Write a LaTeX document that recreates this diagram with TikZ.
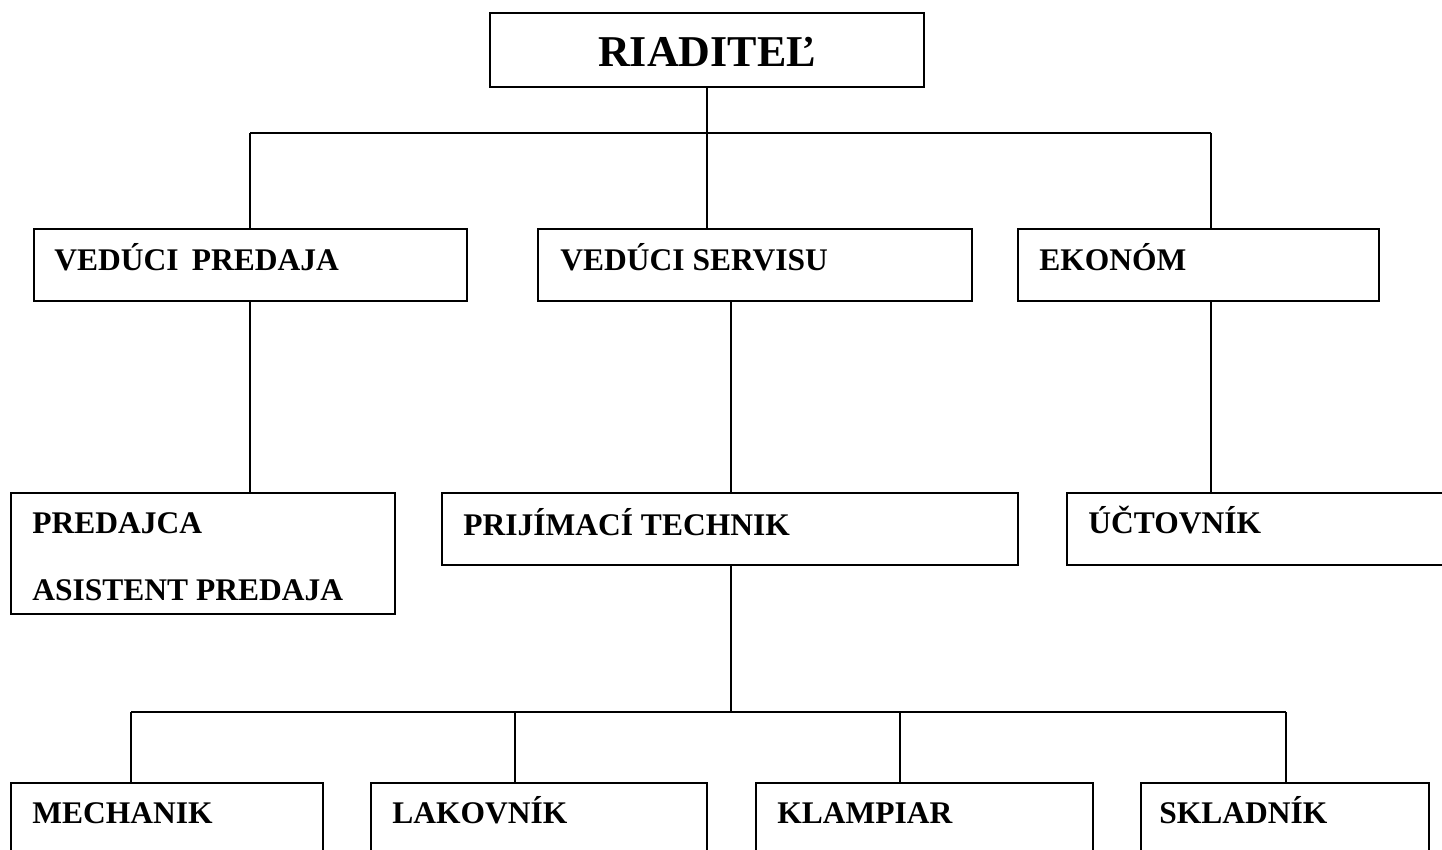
\documentclass[tikz,border=0pt]{standalone}
\usepackage{fontspec}
\setmainfont{Liberation Serif}
\begin{document}
\begin{tikzpicture}[x=0.5pt,y=-0.5pt,
  box/.style={draw, line width=1pt, inner sep=0pt, outer sep=0pt, anchor=north west},
  lbl/.style={font=\bfseries\fontsize{15.75}{18}\selectfont, anchor=base west, inner sep=0pt},
  conn/.style={line width=1pt}]
\useasboundingbox (0,0) rectangle (1442,850);
\clip (0,0) rectangle (1442,850);
\fill[white] (0,0) rectangle (1442,850);
% boxes
\node[box, minimum width=217pt, minimum height=37pt] (r) at (490,13) {};
\node[box, minimum width=216.5pt, minimum height=36pt] (vp) at (34,229) {};
\node[box, minimum width=217pt, minimum height=36pt] (vs) at (538,229) {};
\node[box, minimum width=180.5pt, minimum height=36pt] (ek) at (1018,229) {};
\node[box, minimum width=192pt, minimum height=60.5pt] (pa) at (11,493) {};
\node[box, minimum width=288pt, minimum height=36pt] (pt) at (442,493) {};
\node[box, minimum width=200pt, minimum height=36pt] (uc) at (1067,493) {};
\node[box, minimum width=156pt, minimum height=50pt] (me) at (11,783) {};
\node[box, minimum width=168pt, minimum height=50pt] (la) at (371,783) {};
\node[box, minimum width=168.5pt, minimum height=50pt] (kl) at (756,783) {};
\node[box, line width=1.4pt, minimum width=144pt, minimum height=50pt] (sk) at (1141,783) {};
% texts
\node[font=\bfseries\fontsize{22}{26}\selectfont, anchor=base, inner sep=0pt] (tr) at (707,67) {RIADITEĽ};
\node[lbl] (tvp) at (54,271) {VEDÚCI\hskip0.42em PREDAJA};
\node[lbl] (tvs) at (560,271) {VEDÚCI SERVISU};
\node[lbl] (tek) at (1039,271) {EKONÓM};
\node[lbl] (tpa1) at (32,533) {PREDAJCA};
\node[lbl] (tpa2) at (32,600) {ASISTENT PREDAJA};
\node[lbl] (tpt) at (463,535) {PRIJÍMACÍ TECHNIK};
\node[lbl] (tuc) at (1088,533) {ÚČTOVNÍK};
\node[lbl] (tme) at (32,823) {MECHANIK};
\node[lbl] (tla) at (392,823) {LAKOVNÍK};
\node[lbl] (tkl) at (777,823) {KLAMPIAR};
\node[lbl] (tsk) at (1159,823) {SKLADNÍK};
% junctions
\coordinate (j0) at (707,133);
\coordinate (j1) at (250,133);
\coordinate (j3) at (1211,133);
\coordinate (x2) at (731,712);
\coordinate (b1) at (131,712);
\coordinate (b2) at (515,712);
\coordinate (b3) at (900,712);
\coordinate (b4) at (1286,712);
% connectors
\draw[conn] (r.south) -- (j0);
\draw[conn] (j1) -- (j3);
\draw[conn] (j1) -- (j1 |- vp.north);
\draw[conn] (j0) -- (j0 |- vs.north);
\draw[conn] (j3) -- (j3 |- ek.north);
\draw[conn] (j1 |- vp.south) -- (j1 |- pa.north);
\draw[conn] (x2 |- vs.south) -- (x2 |- pt.north);
\draw[conn] (j3 |- ek.south) -- (j3 |- uc.north);
\draw[conn] (x2 |- pt.south) -- (x2);
\draw[conn] (b1) -- (b4);
\draw[conn] (b1) -- (b1 |- me.north);
\draw[conn] (b2) -- (b2 |- la.north);
\draw[conn] (b3) -- (b3 |- kl.north);
\draw[conn] (b4) -- (b4 |- sk.north);
\end{tikzpicture}
\end{document}
